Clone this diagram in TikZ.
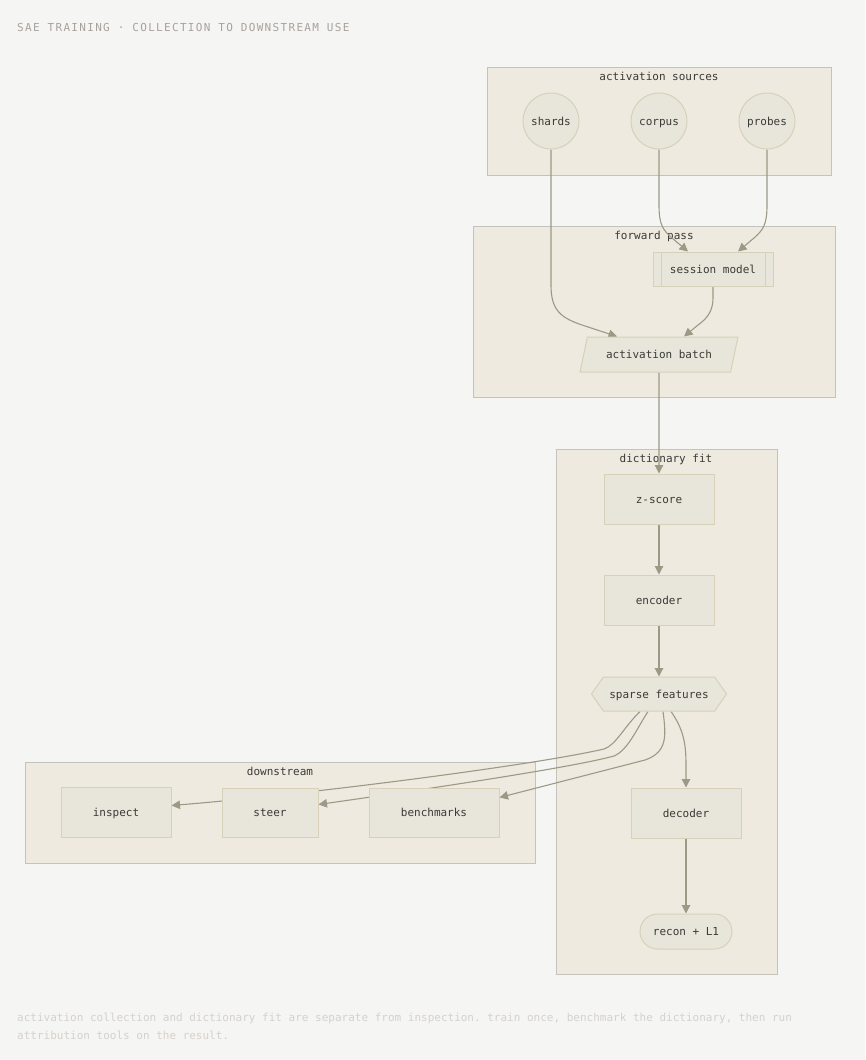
\documentclass[tikz,border=0pt]{standalone}
\usepackage{fontspec}
\setmonofont{DejaVu Sans Mono}
\newfontfamily\titlefont[LetterSpace=12]{DejaVu Sans Mono}
\usetikzlibrary{arrows.meta,shapes.geometric,shapes.misc,shapes.symbols}
\definecolor{pagebg}{RGB}{245,245,243}
\definecolor{clusterfill}{RGB}{238,234,224}
\definecolor{clusterline}{RGB}{196,194,188}
\definecolor{nodefill}{RGB}{232,230,218}
\definecolor{nodeline}{RGB}{214,209,184}
\definecolor{edgecol}{RGB}{156,154,133}
\definecolor{inkcol}{RGB}{58,58,55}
\definecolor{titlecol}{RGB}{168,162,157}
\definecolor{notecol}{RGB}{214,209,204}
\pgfdeclarelayer{bg}
\pgfdeclarelayer{edges}
\pgfsetlayers{bg,edges,main}

\begin{document}
\begin{tikzpicture}
  [x=1pt,y=-1pt,
   every node/.style={font=\ttfamily\fontsize{11}{13}\selectfont,text=inkcol},
   lbl/.style={text height=9.5pt,text depth=1.5pt},
   box/.style={lbl,draw=nodeline,fill=nodefill,line width=1pt,minimum width=110pt,minimum height=50pt,inner sep=0pt},
   src/.style={box,circle,minimum size=56pt},
   subproc/.style={path picture={
     \draw[nodeline,line width=1pt] ([xshift=8pt]path picture bounding box.north west) -- ([xshift=8pt]path picture bounding box.south west)
       ([xshift=-8pt]path picture bounding box.north east) -- ([xshift=-8pt]path picture bounding box.south east);}},
   cluster/.style={draw=clusterline,fill=clusterfill,line width=1pt,inner sep=0pt},
   edge/.style={draw=edgecol,line width=1.1pt,-{Triangle[width=8.5pt,length=8.5pt]}}]
  \useasboundingbox (0,0) rectangle (865,1060);

  \node[anchor=west,inner sep=0pt,font=\titlefont\fontsize{11}{13}\selectfont,text=titlecol] (ttl) at (17,27) {SAE TRAINING · COLLECTION TO DOWNSTREAM USE};

  % groups
  \begin{pgfonlayer}{bg}
    \fill[pagebg] (0,0) rectangle (865,1060);
    \node[cluster,minimum width=344pt,minimum height=108pt] (srcbox) at (659,121) {};
    \node[lbl] (srclbl) at (659,76) {activation sources};
    \node[cluster,minimum width=362pt,minimum height=171pt] (fwdbox) at (654,311.5) {};
    \node[lbl] (fwdlbl) at (654,235) {forward pass};
    \node[cluster,minimum width=221pt,minimum height=525pt] (dictbox) at (666.5,711.5) {};
    \node[lbl] (dictlbl) at (666,458) {dictionary fit};
    \node[cluster,minimum width=510pt,minimum height=101pt] (downbox) at (280,812.5) {};
    \node[lbl] (downlbl) at (280,771) {downstream};
  \end{pgfonlayer}

  \node[src] (sh) at (551,121) {shards};
  \node[src] (co) at (659,121) {corpus};
  \node[src] (pr) at (767,121) {probes};
  \node[box,subproc,minimum width=120pt,minimum height=34pt] (sm) at (713,269) {session model};
  \node[box,trapezium,trapezium left angle=64,trapezium right angle=116,trapezium stretches=true,minimum width=158pt,minimum height=35pt] (bt) at (659,354.5) {activation batch};
  \node[box] (zs) at (659,499) {z-score};
  \node[box] (enc) at (659,600) {encoder};
  \node[box,signal,signal to=west and east,signal pointer angle=110,minimum width=135pt,minimum height=34pt] (sf) at (659,694) {sparse features};
  \node[box] (dec) at (686,813) {decoder};
  \node[box,rounded rectangle,minimum width=92pt,minimum height=35pt] (rec) at (686,931.5) {recon + L1};
  \node[box] (insp) at (116,812.5) {inspect};
  \node[box,minimum width=96pt,minimum height=49pt] (st) at (270,812.5) {steer};
  \node[box,minimum width=130pt,minimum height=49pt] (bm) at (434,812.5) {benchmarks};

  \begin{pgfonlayer}{edges}
    \foreach \from/\to in {bt/zs, zs/enc, enc/sf, dec/rec}
      \draw[edge] (\from.south) -- (\to.north);
    \draw[edge] (sh.south) -- (551,285) .. controls (551,310) and (560,318) .. (585,326) -- ([xshift=-42pt]bt.north);
    \draw[edge] (co.south) -- (659,205) .. controls (659,225) and (663,230) .. (672,238) -- ([xshift=-25pt]sm.north);
    \draw[edge] (pr.south) -- (767,205) .. controls (767,225) and (763,230) .. (754,238) -- ([xshift=25pt]sm.north);
    \draw[edge] (sm.south) -- (713,298) .. controls (713,310) and (708,318) .. (698,325) -- ([xshift=25pt]bt.north);
    \draw[edge] ([xshift=12pt]sf.south) .. controls (684,730) and (686,745) .. (686,765) -- (dec.north);
    \draw[edge] ([xshift=4pt]sf.south) .. controls (666,735) and (668,752) .. (645,760) -- ([yshift=15pt]bm.east);
    \draw[edge] ([xshift=-11pt]sf.south) .. controls (636,730) and (628,750) .. (614,756)
      .. controls (570,768) and (420,790) .. ([yshift=8pt]st.east);
    \draw[edge] ([xshift=-19pt]sf.south) .. controls (624,727) and (616,745) .. (604,749)
      .. controls (530,766) and (300,795) .. ([yshift=7pt]insp.east);
  \end{pgfonlayer}

  \node[anchor=north west,inner sep=0pt,align=left,font=\ttfamily\fontsize{11}{18}\selectfont,text=notecol] (note) at (17,1013)
    {activation collection and dictionary fit are separate from inspection. train once, benchmark the dictionary, then run\\attribution tools on the result.};
\end{tikzpicture}
\end{document}
